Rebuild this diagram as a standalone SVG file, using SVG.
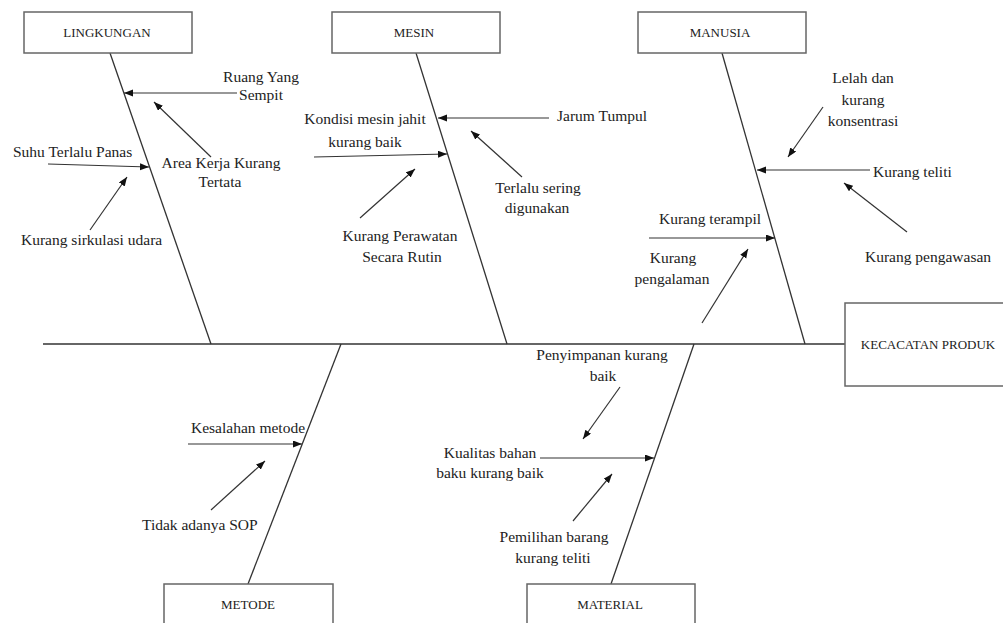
<svg xmlns="http://www.w3.org/2000/svg" width="1003" height="623" viewBox="0 0 1003 623">
<defs>
<marker id="ah" markerUnits="userSpaceOnUse" markerWidth="10" markerHeight="8" refX="9" refY="3.5" orient="auto">
<path d="M0,0 L9,3.5 L0,7 z" fill="#111"/>
</marker>
<style>
.box{fill:#fff;stroke:#666;stroke-width:1.5}
.bl{font-family:"Liberation Serif","Times New Roman",serif;font-size:13px;fill:#222;text-anchor:middle}
.t{font-family:"Liberation Serif","Times New Roman",serif;font-size:15.5px;fill:#222}
.m{text-anchor:middle}
.bone{stroke:#333;stroke-width:1.3;fill:none}
.arr{stroke:#333;stroke-width:1.2;fill:none;marker-end:url(#ah)}
</style>
</defs>
<rect width="1003" height="623" fill="#fff"/>
<g id="connectors">
<line class="bone" x1="43" y1="344" x2="845" y2="344"/>
<line class="bone" x1="110" y1="53" x2="211" y2="344"/>
<line class="bone" x1="416" y1="53" x2="507" y2="344"/>
<line class="bone" x1="722" y1="53" x2="805" y2="344"/>
<line class="bone" x1="341" y1="344" x2="248" y2="584"/>
<line class="bone" x1="694" y1="344" x2="611" y2="584"/>
<line class="arr" x1="237" y1="93" x2="124" y2="93"/>
<line class="arr" x1="211" y1="157" x2="154" y2="102"/>
<line class="arr" x1="48" y1="164" x2="149" y2="167"/>
<line class="arr" x1="90" y1="230" x2="127" y2="177"/>
<line class="arr" x1="549" y1="118" x2="438" y2="118"/>
<line class="arr" x1="314" y1="157" x2="447" y2="154"/>
<line class="arr" x1="522" y1="177" x2="471" y2="131"/>
<line class="arr" x1="360" y1="218" x2="415" y2="169"/>
<line class="arr" x1="823" y1="107" x2="788" y2="157"/>
<line class="arr" x1="870" y1="170" x2="757" y2="170"/>
<line class="arr" x1="907" y1="232" x2="844" y2="183"/>
<line class="arr" x1="649" y1="238" x2="775" y2="238"/>
<line class="arr" x1="702" y1="323" x2="748" y2="249"/>
<line class="arr" x1="188" y1="444" x2="302" y2="444"/>
<line class="arr" x1="211" y1="510" x2="265" y2="461"/>
<line class="arr" x1="620" y1="387" x2="583" y2="439"/>
<line class="arr" x1="540" y1="458" x2="654" y2="458"/>
<line class="arr" x1="573" y1="521" x2="612" y2="474"/>
</g>
<g id="lingkungan">
<rect class="box" x="24" y="12" width="168" height="41"/>
<text class="bl" x="107" y="37">LINGKUNGAN</text>
</g>
<g id="mesin">
<rect class="box" x="332" y="12" width="168" height="41"/>
<text class="bl" x="414" y="37">MESIN</text>
</g>
<g id="manusia">
<rect class="box" x="638" y="12" width="168" height="41"/>
<text class="bl" x="720" y="37">MANUSIA</text>
</g>
<g id="kecacatan">
<rect class="box" x="845" y="303" width="170" height="83"/>
<text class="bl" x="928" y="349">KECACATAN PRODUK</text>
</g>
<g id="metode">
<rect class="box" x="164" y="584" width="169" height="50"/>
<text class="bl" x="248" y="609">METODE</text>
</g>
<g id="material">
<rect class="box" x="527" y="584" width="168" height="50"/>
<text class="bl" x="610" y="609">MATERIAL</text>
</g>
<g id="labels">
<text class="t m" x="261" y="82">Ruang Yang</text>
<text class="t m" x="261" y="100">Sempit</text>
<text class="t m" x="221" y="168">Area Kerja Kurang</text>
<text class="t m" x="220" y="187">Tertata</text>
<text class="t" x="13" y="157">Suhu Terlalu Panas</text>
<text class="t" x="21" y="245">Kurang sirkulasi udara</text>
<text class="t m" x="365" y="124">Kondisi mesin jahit</text>
<text class="t m" x="365" y="147">kurang baik</text>
<text class="t" x="557" y="121">Jarum Tumpul</text>
<text class="t m" x="538" y="193">Terlalu sering</text>
<text class="t m" x="537" y="213">digunakan</text>
<text class="t m" x="400" y="241">Kurang Perawatan</text>
<text class="t m" x="402" y="262">Secara Rutin</text>
<text class="t m" x="863" y="83">Lelah dan</text>
<text class="t m" x="863" y="105">kurang</text>
<text class="t m" x="863" y="126">konsentrasi</text>
<text class="t" x="873" y="177">Kurang teliti</text>
<text class="t" x="659" y="224">Kurang terampil</text>
<text class="t m" x="673" y="263">Kurang</text>
<text class="t m" x="672" y="284">pengalaman</text>
<text class="t" x="865" y="262">Kurang pengawasan</text>
<text class="t" x="191" y="433">Kesalahan metode</text>
<text class="t" x="142" y="530">Tidak adanya SOP</text>
<text class="t m" x="602" y="360">Penyimpanan kurang</text>
<text class="t m" x="603" y="381">baik</text>
<text class="t m" x="490" y="458">Kualitas bahan</text>
<text class="t m" x="490" y="478">baku kurang baik</text>
<text class="t m" x="554" y="542">Pemilihan barang</text>
<text class="t m" x="553" y="563">kurang teliti</text>
</g>
</svg>
